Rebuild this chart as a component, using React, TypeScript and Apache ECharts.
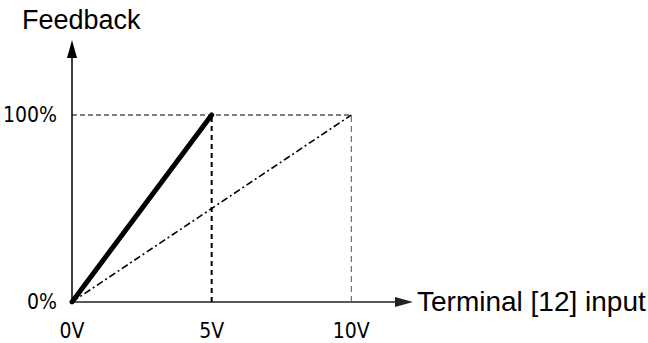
import React, { useEffect, useRef } from "react";
import * as echarts from "echarts";

const xTickValues = [0, 5, 10];
const xTickLabels = ["0V", "5V", "10V"];
const yTickValues = [0, 100];
const yTickLabels = ["0%", "100%"];
const gainHighX = [0, 5];
const gainHighY = [0, 100];
const gainLowX = [0, 10];
const gainLowY = [0, 100];
const yTitle = "Feedback";
const xTitle = "Terminal [12] input";

const narrow = '"Liberation Sans Narrow", "DejaVu Sans Condensed", "Arial Narrow", sans-serif';
const arial = '"Liberation Sans", Arial, sans-serif';

export default function App() {
  const ref = useRef<HTMLDivElement>(null);
  useEffect(() => {
    document.body.style.margin = "0";
    const chart = echarts.init(ref.current!, null, { renderer: "svg" });
    const toPts = (xs: number[], ys: number[]) => xs.map((x, i) => [x, ys[i]]);
    const top = gainLowY[1];
    const option: any = {
      animation: false,
      backgroundColor: "#fff",
      grid: { left: 70, right: 244, top: 49, bottom: 41 },
      xAxis: {
        type: "value",
        min: 0,
        max: 11.886,
        interval: 5,
        axisLine: {
          lineStyle: { color: "#222", width: 1.5 },
          symbol: ["none", "triangle"],
          symbolSize: [10, 18],
        },
        axisTick: { show: false },
        splitLine: { show: false },
        axisLabel: {
          margin: 18,
          fontFamily: narrow,
          fontSize: 21,
          color: "#000",
          formatter: (v: number) => {
            const i = xTickValues.indexOf(v);
            return i >= 0 ? xTickLabels[i] : "";
          },
        },
      },
      yAxis: {
        type: "value",
        min: 0,
        max: 135.3,
        interval: 100,
        axisLine: {
          lineStyle: { color: "#000", width: 1.5 },
          symbol: ["none", "triangle"],
          symbolSize: [10, 18],
        },
        axisTick: { show: false },
        splitLine: { show: false },
        axisLabel: {
          margin: 15,
          fontFamily: narrow,
          fontSize: 21,
          color: "#000",
          formatter: (v: number) => {
            const i = yTickValues.indexOf(v);
            return i >= 0 ? yTickLabels[i] : "";
          },
        },
      },
      series: [
        {
          type: "line",
          data: [[xTickValues[0], top], [xTickValues[2], top]],
          showSymbol: false,
          lineStyle: { color: "#000", width: 1, type: [5, 3] },
          silent: true,
        },
        {
          type: "line",
          data: [[xTickValues[1], 0], [xTickValues[1], top]],
          showSymbol: false,
          lineStyle: { color: "#000", width: 2, type: [5, 4] },
          silent: true,
        },
        {
          type: "line",
          data: [[xTickValues[2], 0], [xTickValues[2], top]],
          showSymbol: false,
          lineStyle: { color: "#555", width: 1, type: [6, 4] },
          silent: true,
        },
        {
          type: "line",
          data: toPts(gainLowX, gainLowY),
          showSymbol: false,
          lineStyle: { color: "#000", width: 1.6, type: [7, 3, 2, 3] },
        },
        {
          type: "line",
          data: toPts(gainHighX, gainHighY),
          showSymbol: false,
          lineStyle: { color: "#000", width: 5, cap: "round" },
        },
      ],
      graphic: [
        {
          type: "text",
          left: 22,
          top: 6,
          style: { text: yTitle, fontFamily: arial, fontSize: 27, fill: "#000" },
        },
        {
          type: "text",
          left: 417,
          top: 287,
          style: { text: xTitle, fontFamily: arial, fontSize: 28, fill: "#000" },
        },
      ],
    };
    chart.setOption(option);
    return () => chart.dispose();
  }, []);
  return <div ref={ref} style={{ width: 648, height: 343 }} />;
}
